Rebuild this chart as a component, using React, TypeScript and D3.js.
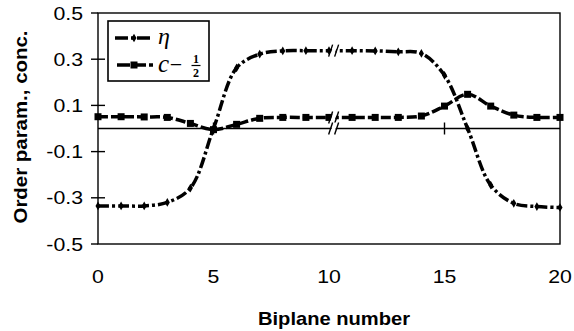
import React from "react";
import * as d3 from "d3";

const biplanes = [0,1,2,3,4,5,6,7,8,9,10,11,12,13,14,15,16,17,18,19,20];
const etaValues = [-0.335,-0.335,-0.335,-0.32,-0.258,0.0,0.262,0.322,0.336,0.337,0.337,0.337,0.336,0.332,0.325,0.23,0.0,-0.245,-0.324,-0.338,-0.342];
const concValues = [0.051,0.051,0.05,0.048,0.022,-0.005,0.018,0.044,0.048,0.048,0.048,0.048,0.048,0.048,0.054,0.097,0.148,0.097,0.058,0.048,0.048];
const yTicks = [0.5,0.3,0.1,-0.1,-0.3,-0.5];
const xTicks = [0,5,10,15,20];
const xBreak = 10.2;

const W = 574, H = 331;
const L = 98, R = 560, T = 13, B = 244;

export default function App() {
  const x = d3.scaleLinear().domain([0,20]).range([L,R]);
  const y = d3.scaleLinear().domain([-0.5,0.5]).range([B,T]);
  const line = d3.line<number>().x((_, i) => x(biplanes[i])).y(d => y(d)).curve(d3.curveCatmullRom.alpha(0.5));
  const etaPath = line(etaValues) || "";
  const concPath = line(concValues) || "";
  const font = "'Liberation Sans', Arial, sans-serif";
  const serif = "'Liberation Serif', 'Times New Roman', serif";
  const y0 = y(0);
  const xb = x(xBreak);
  const etaB = y(0.337), concB = y(0.048);
  const breakAt = (yy: number, key: string) => (
    <g key={key}>
      <polygon points={`${xb-4},${yy+6} ${xb},${yy-6} ${xb+4},${yy-6} ${xb},${yy+6}`} fill="#fff" />
      <line x1={xb-5} y1={yy+6} x2={xb-1} y2={yy-6} stroke="#000" strokeWidth={1.4} />
      <line x1={xb+1} y1={yy+6} x2={xb+5} y2={yy-6} stroke="#000" strokeWidth={1.4} />
    </g>
  );
  return (
    <svg width={W} height={H} style={{ position: "absolute", left: 0, top: 0, background: "#fff" }}>
      <rect x={L} y={T} width={R-L} height={B-T} fill="none" stroke="#000" strokeWidth={1.4} />
      <line x1={L} x2={R} y1={y0} y2={y0} stroke="#000" strokeWidth={1.4} />
      {yTicks.map(t => (
        <g key={"yt"+t}>
          <line x1={L-7} x2={t === 0.5 || t === -0.5 ? L : L+7} y1={y(t)} y2={y(t)} stroke="#000" strokeWidth={1.4} />
          <g transform={`translate(83,${y(t)}) scale(1.15,1)`}>
            <text x={0} y={0} dy="0.36em" textAnchor="end" fontFamily={font} fontSize={18.5} fill="#000">{t.toFixed(1)}</text>
          </g>
        </g>
      ))}
      {xTicks.map(t => (
        <g key={"xt"+t}>
          {t === 5 || t === 15 ? <line x1={x(t)} x2={x(t)} y1={y0-6} y2={y0+6} stroke="#000" strokeWidth={1.4} /> : null}
          <g transform={`translate(${x(t)},283) scale(1.15,1)`}>
            <text x={0} y={0} textAnchor="middle" fontFamily={font} fontSize={18.5} fill="#000">{t}</text>
          </g>
        </g>
      ))}
      <text x={334} y={325} textAnchor="middle" fontFamily={font} fontWeight="bold" fontSize={19} textLength={152} lengthAdjust="spacingAndGlyphs" fill="#000">Biplane number</text>
      <text transform={`translate(27,127) rotate(-90)`} textAnchor="middle" fontFamily={font} fontWeight="bold" fontSize={19} textLength={193} lengthAdjust="spacingAndGlyphs" fill="#000">Order param., conc.</text>
      <path d={etaPath} fill="none" stroke="#000" strokeWidth={3.5} strokeDasharray="11,3,3,3" />
      <path d={concPath} fill="none" stroke="#000" strokeWidth={3.5} strokeDasharray="10,3" />
      {etaValues.map((v, i) => (
        <path key={"em"+i} d={d3.symbol(d3.symbolDiamond, 22)() || ""} transform={`translate(${x(biplanes[i])},${y(v)})`} fill="#000" />
      ))}
      {concValues.map((v, i) => (
        <rect key={"cm"+i} x={x(biplanes[i])-3.5} y={y(v)-3.5} width={7} height={7} fill="#000" />
      ))}
      {breakAt(etaB, "b1")}
      {breakAt(concB, "b2")}
      {breakAt(y0, "b3")}
      <g>
        <rect x={108} y={21} width={101} height={60} fill="#fff" stroke="#000" strokeWidth={1.6} />
        <line x1={115} x2={153} y1={38} y2={38} stroke="#000" strokeWidth={3.5} strokeDasharray="13,3,3,3" />
        <path d={d3.symbol(d3.symbolDiamond, 22)() || ""} transform="translate(134,38)" fill="#000" />
        <text x={158} y={44} fontFamily={serif} fontStyle="italic" fontSize={24} fill="#000">η</text>
        <line x1={115} x2={153} y1={65} y2={65} stroke="#000" strokeWidth={3.5} strokeDasharray="13,3" strokeDashoffset={-2} />
        <rect x={130.5} y={61.5} width={7} height={7} fill="#000" />
        <text x={158} y={72} fontFamily={serif} fontStyle="italic" fontSize={25} fill="#000">c</text>
        <text x={176} y={72} textAnchor="middle" fontFamily={serif} fontSize={22} fill="#000">−</text>
        <text x={196} y={63} textAnchor="middle" fontFamily={serif} fontWeight="bold" fontSize={12} fill="#000">1</text>
        <line x1={191.5} x2={200.5} y1={65.5} y2={65.5} stroke="#000" strokeWidth={1.2} />
        <text x={196} y={77} textAnchor="middle" fontFamily={serif} fontWeight="bold" fontSize={12} fill="#000">2</text>
      </g>
    </svg>
  );
}
